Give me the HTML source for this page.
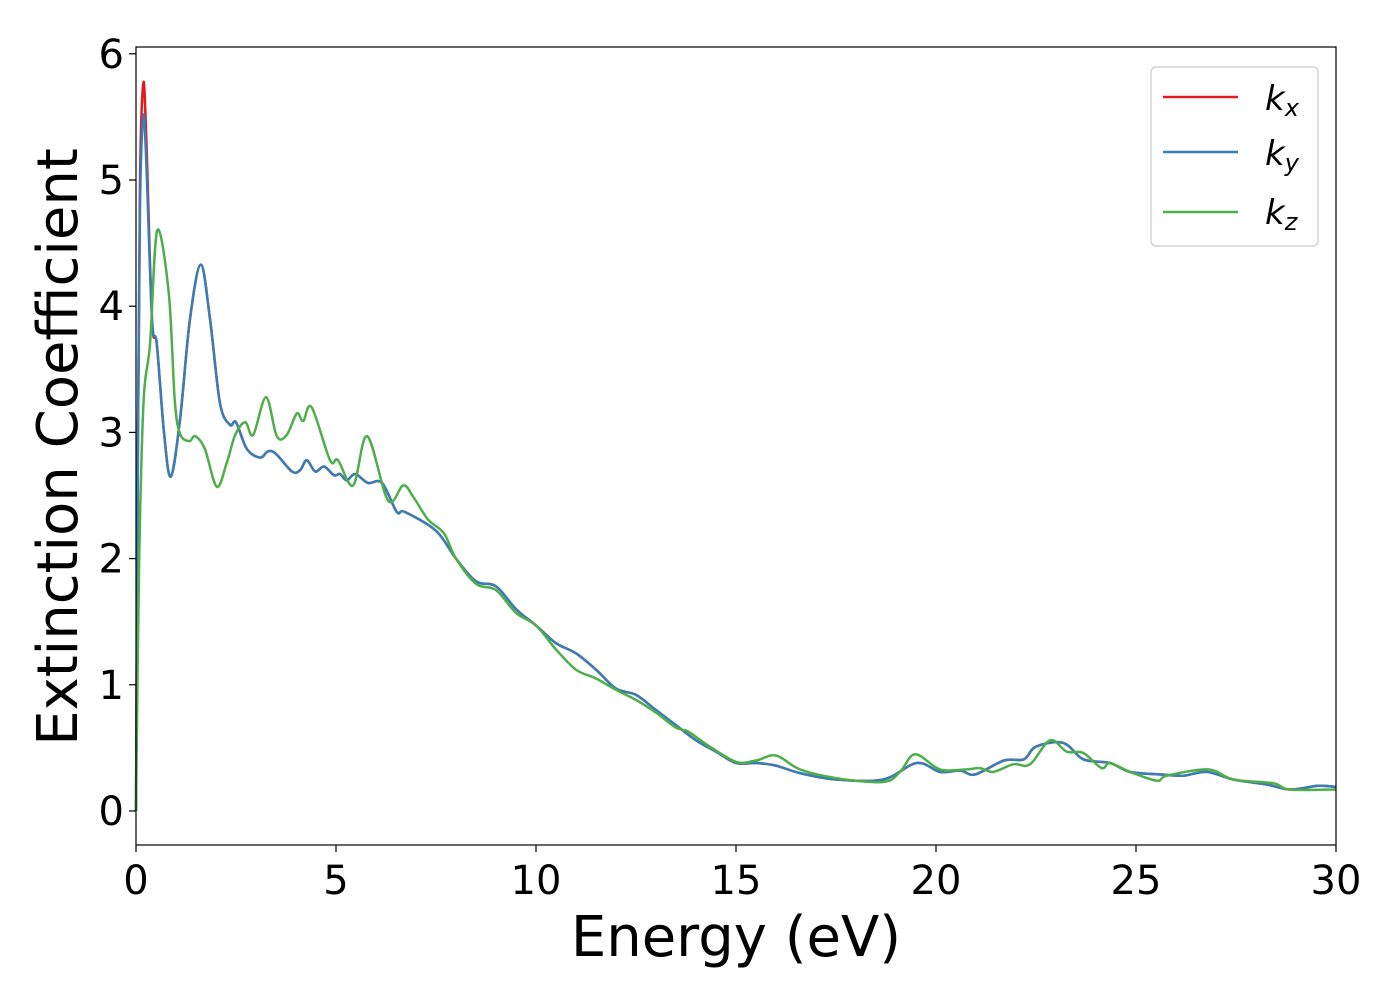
<!DOCTYPE html>
<html><head><meta charset="utf-8"><style>
html,body{margin:0;padding:0;background:#fff;}
svg{display:block;font-family:"DejaVu Sans","Liberation Sans",sans-serif;}
</style></head><body>
<svg id="chart" width="1400" height="1000" viewBox="0 0 1400 1000" xmlns="http://www.w3.org/2000/svg">
<rect x="0" y="0" width="1400" height="1000" fill="#fff"/>
<g id="series"></g>
<rect x="136" y="47" width="1200" height="798" fill="none" stroke="#000" stroke-width="1.2"/>
<g id="xticks"></g>
<g id="yticks"></g>
<text x="736" y="956" font-size="56" text-anchor="middle">Energy (eV)</text>
<text transform="translate(77,447) rotate(-90)" font-size="56" text-anchor="middle">Extinction Coefficient</text>
<g>
<rect x="1151" y="67" width="167" height="179" rx="5" fill="#fff" stroke="#ccc" stroke-width="1.2"/>
<line x1="1163" y1="97" x2="1238" y2="97" stroke="#e41a1c" stroke-width="2.5"/>
<text x="1265" y="110" font-size="34" font-style="italic">k<tspan font-size="24" dy="6">x</tspan></text>
<line x1="1163" y1="152" x2="1238" y2="152" stroke="#377eb8" stroke-width="2.5"/>
<text x="1265" y="165" font-size="34" font-style="italic">k<tspan font-size="24" dy="6">y</tspan></text>
<line x1="1163" y1="212" x2="1238" y2="212" stroke="#4daf4a" stroke-width="2.5"/>
<text x="1265" y="224" font-size="34" font-style="italic">k<tspan font-size="24" dy="6">z</tspan></text>
</g>
</svg>
<script>
const xTicks = [0,5,10,15,20,25,30];
const yTicks = [0,1,2,3,4,5,6];
const energyXY = [0,0.05,0.1,0.18,0.25,0.4,0.52,0.7,0.87,1.1,1.35,1.62,1.85,2.1,2.35,2.5,2.77,3.1,3.3,3.5,3.9,4.1,4.27,4.48,4.7,4.95,5.1,5.27,5.48,5.8,6.15,6.52,6.72,7.5,8,8.5,9,9.5,10,10.5,11,11.5,12,12.5,13,13.5,14,14.5,15,15.5,16,16.6,17.52,18.68,19.52,20.1,20.6,20.98,21.7,22.2,22.5,23.18,23.68,24.35,24.85,25.6,26.18,26.77,27.43,28.27,28.85,29.56,30];
const kY = [0,3.0,4.8,5.5,5.2,3.9,3.7,3.0,2.65,3.1,3.9,4.33,3.9,3.23,3.06,3.08,2.87,2.8,2.85,2.83,2.69,2.7,2.78,2.69,2.73,2.66,2.67,2.62,2.67,2.6,2.6,2.37,2.37,2.22,2.0,1.82,1.78,1.6,1.47,1.33,1.25,1.12,0.97,0.92,0.8,0.68,0.56,0.47,0.38,0.38,0.36,0.30,0.25,0.25,0.38,0.31,0.32,0.29,0.40,0.41,0.51,0.54,0.41,0.38,0.31,0.29,0.28,0.31,0.25,0.21,0.17,0.20,0.19];
const kX = kY.map((v,i)=> i===3 ? 5.76 : (i===2 ? 5.0 : (i===4 ? 5.4 : v)));
const energyZ = [0,0.08,0.19,0.35,0.53,0.82,0.97,1.1,1.33,1.48,1.72,2.02,2.27,2.48,2.73,2.93,3.25,3.52,3.77,4.02,4.18,4.39,4.85,5.05,5.43,5.78,6.3,6.68,6.93,7.3,7.7,8,8.5,9,9.5,10,10.5,11,11.5,12,12.5,13,13.5,13.8,14.3,15,15.5,16,16.6,17.52,18.68,19.1,19.48,20.1,20.77,21.1,21.43,21.93,22.35,22.85,23.27,23.68,24.14,24.35,24.85,25.52,25.77,26.8,27.43,28.43,28.85,30];
const kZ = [0,2.0,3.25,3.7,4.6,4.1,3.25,2.99,2.93,2.97,2.87,2.57,2.76,2.98,3.08,2.98,3.28,2.97,2.98,3.15,3.09,3.2,2.78,2.78,2.58,2.97,2.46,2.58,2.49,2.31,2.2,2.0,1.8,1.75,1.57,1.47,1.28,1.12,1.05,0.96,0.88,0.78,0.66,0.63,0.52,0.39,0.40,0.44,0.33,0.26,0.23,0.31,0.45,0.33,0.33,0.34,0.31,0.37,0.37,0.56,0.47,0.46,0.34,0.38,0.31,0.24,0.28,0.33,0.25,0.22,0.17,0.17];

const X0=136, X1=1336, Y0=811, YPER=126.2;
function sx(e){return X0+(e-0)/30*(X1-X0);}
function sy(k){return Y0-k*YPER;}
const NS="http://www.w3.org/2000/svg";
function pathD(xs,ys){
  const p=xs.map((e,i)=>[sx(e),sy(ys[i])]);
  let d="M"+p[0][0].toFixed(1)+","+p[0][1].toFixed(1);
  for(let i=0;i<p.length-1;i++){
    const a=p[Math.max(i-1,0)],b=p[i],c=p[i+1],e=p[Math.min(i+2,p.length-1)];
    const c1=[b[0]+(c[0]-a[0])/6,b[1]+(c[1]-a[1])/6];
    const c2=[c[0]-(e[0]-b[0])/6,c[1]-(e[1]-b[1])/6];
    d+=" C"+c1[0].toFixed(1)+","+c1[1].toFixed(1)+" "+c2[0].toFixed(1)+","+c2[1].toFixed(1)+" "+c[0].toFixed(1)+","+c[1].toFixed(1);
  }
  return d;
}
const g=document.getElementById("series");
function addLine(xs,ys,color,name){
  const el=document.createElementNS(NS,"path");
  el.setAttribute("d",pathD(xs,ys));
  el.setAttribute("fill","none");
  el.setAttribute("stroke",color);
  el.setAttribute("stroke-width","2.5");
  el.setAttribute("stroke-linejoin","round");
  
  
  g.appendChild(el);
}
addLine(energyXY,kX,"#e41a1c","line-kx");
addLine(energyXY,kY,"#377eb8","line-ky");
addLine(energyZ,kZ,"#4daf4a","line-kz");

const xg=document.getElementById("xticks");
xTicks.forEach(v=>{
  const x=sx(v);
  const t=document.createElementNS(NS,"line");
  t.setAttribute("x1",x);t.setAttribute("x2",x);t.setAttribute("y1",845);t.setAttribute("y2",852);
  t.setAttribute("stroke","#000");t.setAttribute("stroke-width","1.2");
  
  
  xg.appendChild(t);
  const tx=document.createElementNS(NS,"text");
  tx.setAttribute("x",x);tx.setAttribute("y",894);tx.setAttribute("font-size","40");tx.setAttribute("text-anchor","middle");
  tx.textContent=v;
  
  
  xg.appendChild(tx);
});
const yg=document.getElementById("yticks");
yTicks.forEach(v=>{
  const y=sy(v);
  const t=document.createElementNS(NS,"line");
  t.setAttribute("x1",129);t.setAttribute("x2",136);t.setAttribute("y1",y);t.setAttribute("y2",y);
  t.setAttribute("stroke","#000");t.setAttribute("stroke-width","1.2");
  
  
  yg.appendChild(t);
  const tx=document.createElementNS(NS,"text");
  tx.setAttribute("x",124);tx.setAttribute("y",y+14);tx.setAttribute("font-size","40");tx.setAttribute("text-anchor","end");
  tx.textContent=v;
  
  
  yg.appendChild(tx);
});
</script>
</body></html>
